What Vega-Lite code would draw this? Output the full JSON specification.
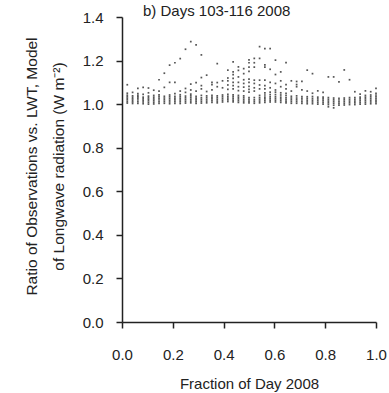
{
"$schema":"https://vega.github.io/schema/vega-lite/v6.json",
"autosize":{"type":"none"},
"padding":{"left":122,"top":17,"right":13,"bottom":71},
"width":254,"height":305,
"background":"white",
"title":{"text":"b) Days 103-116 2008","anchor":"start","frame":"group","orient":"top","dx":21,"offset":-21,"baseline":"alphabetic","fontSize":15,"fontWeight":"normal","font":"Liberation Sans","color":"#222"},
"config":{"view":{"stroke":null},"axis":{"grid":false,"domainColor":"#222","domainWidth":1.5,"tickColor":"#222","tickWidth":1.5,"tickSize":6,"labelFont":"Liberation Sans","labelFontSize":15,"labelColor":"#222","titleFont":"Liberation Sans","titleFontSize":15,"titleFontWeight":"normal","titleColor":"#222"}},
"data":{"values":[
{"frac":0.0208,"ratio":1.005},{"frac":0.0208,"ratio":1.012},{"frac":0.0208,"ratio":1.02},{"frac":0.0208,"ratio":1.027},{"frac":0.0208,"ratio":1.034},{"frac":0.0208,"ratio":1.041},{"frac":0.0208,"ratio":1.05},{"frac":0.0208,"ratio":1.089},
{"frac":0.0417,"ratio":1.003},{"frac":0.0417,"ratio":1.01},{"frac":0.0417,"ratio":1.017},{"frac":0.0417,"ratio":1.024},{"frac":0.0417,"ratio":1.031},{"frac":0.0417,"ratio":1.038},{"frac":0.0417,"ratio":1.054},
{"frac":0.0625,"ratio":1.004},{"frac":0.0625,"ratio":1.011},{"frac":0.0625,"ratio":1.019},{"frac":0.0625,"ratio":1.026},{"frac":0.0625,"ratio":1.033},{"frac":0.0625,"ratio":1.04},{"frac":0.0625,"ratio":1.048},{"frac":0.0625,"ratio":1.072},
{"frac":0.0833,"ratio":1.002},{"frac":0.0833,"ratio":1.01},{"frac":0.0833,"ratio":1.018},{"frac":0.0833,"ratio":1.025},{"frac":0.0833,"ratio":1.032},{"frac":0.0833,"ratio":1.045},{"frac":0.0833,"ratio":1.077},
{"frac":0.1042,"ratio":1.0},{"frac":0.1042,"ratio":1.008},{"frac":0.1042,"ratio":1.016},{"frac":0.1042,"ratio":1.023},{"frac":0.1042,"ratio":1.03},{"frac":0.1042,"ratio":1.037},{"frac":0.1042,"ratio":1.052},{"frac":0.1042,"ratio":1.074},
{"frac":0.125,"ratio":1.001},{"frac":0.125,"ratio":1.009},{"frac":0.125,"ratio":1.017},{"frac":0.125,"ratio":1.024},{"frac":0.125,"ratio":1.032},{"frac":0.125,"ratio":1.04},{"frac":0.125,"ratio":1.064},
{"frac":0.1458,"ratio":1.003},{"frac":0.1458,"ratio":1.011},{"frac":0.1458,"ratio":1.019},{"frac":0.1458,"ratio":1.027},{"frac":0.1458,"ratio":1.035},{"frac":0.1458,"ratio":1.043},{"frac":0.1458,"ratio":1.06},{"frac":0.1458,"ratio":1.112},
{"frac":0.1667,"ratio":1.004},{"frac":0.1667,"ratio":1.012},{"frac":0.1667,"ratio":1.02},{"frac":0.1667,"ratio":1.028},{"frac":0.1667,"ratio":1.036},{"frac":0.1667,"ratio":1.077},{"frac":0.1667,"ratio":1.142},
{"frac":0.1875,"ratio":1.002},{"frac":0.1875,"ratio":1.01},{"frac":0.1875,"ratio":1.018},{"frac":0.1875,"ratio":1.026},{"frac":0.1875,"ratio":1.034},{"frac":0.1875,"ratio":1.042},{"frac":0.1875,"ratio":1.1},{"frac":0.1875,"ratio":1.179},
{"frac":0.2083,"ratio":1.004},{"frac":0.2083,"ratio":1.012},{"frac":0.2083,"ratio":1.02},{"frac":0.2083,"ratio":1.028},{"frac":0.2083,"ratio":1.036},{"frac":0.2083,"ratio":1.048},{"frac":0.2083,"ratio":1.1},{"frac":0.2083,"ratio":1.19},
{"frac":0.2292,"ratio":1.003},{"frac":0.2292,"ratio":1.011},{"frac":0.2292,"ratio":1.019},{"frac":0.2292,"ratio":1.027},{"frac":0.2292,"ratio":1.035},{"frac":0.2292,"ratio":1.043},{"frac":0.2292,"ratio":1.06},{"frac":0.2292,"ratio":1.209},
{"frac":0.25,"ratio":1.005},{"frac":0.25,"ratio":1.013},{"frac":0.25,"ratio":1.021},{"frac":0.25,"ratio":1.029},{"frac":0.25,"ratio":1.037},{"frac":0.25,"ratio":1.054},{"frac":0.25,"ratio":1.072},{"frac":0.25,"ratio":1.252},
{"frac":0.2708,"ratio":1.006},{"frac":0.2708,"ratio":1.014},{"frac":0.2708,"ratio":1.022},{"frac":0.2708,"ratio":1.03},{"frac":0.2708,"ratio":1.038},{"frac":0.2708,"ratio":1.046},{"frac":0.2708,"ratio":1.065},{"frac":0.2708,"ratio":1.092},{"frac":0.2708,"ratio":1.287},
{"frac":0.2917,"ratio":1.004},{"frac":0.2917,"ratio":1.012},{"frac":0.2917,"ratio":1.02},{"frac":0.2917,"ratio":1.028},{"frac":0.2917,"ratio":1.036},{"frac":0.2917,"ratio":1.06},{"frac":0.2917,"ratio":1.099},{"frac":0.2917,"ratio":1.272},
{"frac":0.3125,"ratio":1.005},{"frac":0.3125,"ratio":1.013},{"frac":0.3125,"ratio":1.021},{"frac":0.3125,"ratio":1.029},{"frac":0.3125,"ratio":1.04},{"frac":0.3125,"ratio":1.07},{"frac":0.3125,"ratio":1.085},{"frac":0.3125,"ratio":1.122},{"frac":0.3125,"ratio":1.226},
{"frac":0.3333,"ratio":1.006},{"frac":0.3333,"ratio":1.014},{"frac":0.3333,"ratio":1.022},{"frac":0.3333,"ratio":1.03},{"frac":0.3333,"ratio":1.038},{"frac":0.3333,"ratio":1.058},{"frac":0.3333,"ratio":1.133},
{"frac":0.3542,"ratio":1.008},{"frac":0.3542,"ratio":1.016},{"frac":0.3542,"ratio":1.024},{"frac":0.3542,"ratio":1.032},{"frac":0.3542,"ratio":1.04},{"frac":0.3542,"ratio":1.065},{"frac":0.3542,"ratio":1.09},{"frac":0.3542,"ratio":1.1},
{"frac":0.375,"ratio":1.006},{"frac":0.375,"ratio":1.014},{"frac":0.375,"ratio":1.022},{"frac":0.375,"ratio":1.03},{"frac":0.375,"ratio":1.038},{"frac":0.375,"ratio":1.08},{"frac":0.375,"ratio":1.099},{"frac":0.375,"ratio":1.186},
{"frac":0.3958,"ratio":1.01},{"frac":0.3958,"ratio":1.018},{"frac":0.3958,"ratio":1.026},{"frac":0.3958,"ratio":1.034},{"frac":0.3958,"ratio":1.042},{"frac":0.3958,"ratio":1.075},{"frac":0.3958,"ratio":1.107},
{"frac":0.4167,"ratio":1.012},{"frac":0.4167,"ratio":1.02},{"frac":0.4167,"ratio":1.028},{"frac":0.4167,"ratio":1.036},{"frac":0.4167,"ratio":1.045},{"frac":0.4167,"ratio":1.068},{"frac":0.4167,"ratio":1.088},{"frac":0.4167,"ratio":1.107},{"frac":0.4167,"ratio":1.12},{"frac":0.4167,"ratio":1.156},
{"frac":0.4375,"ratio":1.01},{"frac":0.4375,"ratio":1.018},{"frac":0.4375,"ratio":1.026},{"frac":0.4375,"ratio":1.034},{"frac":0.4375,"ratio":1.043},{"frac":0.4375,"ratio":1.07},{"frac":0.4375,"ratio":1.085},{"frac":0.4375,"ratio":1.1},{"frac":0.4375,"ratio":1.118},{"frac":0.4375,"ratio":1.135},{"frac":0.4375,"ratio":1.148},{"frac":0.4375,"ratio":1.194},
{"frac":0.4583,"ratio":1.008},{"frac":0.4583,"ratio":1.016},{"frac":0.4583,"ratio":1.024},{"frac":0.4583,"ratio":1.032},{"frac":0.4583,"ratio":1.04},{"frac":0.4583,"ratio":1.062},{"frac":0.4583,"ratio":1.08},{"frac":0.4583,"ratio":1.1},{"frac":0.4583,"ratio":1.125},{"frac":0.4583,"ratio":1.155},{"frac":0.4583,"ratio":1.171},
{"frac":0.4792,"ratio":1.006},{"frac":0.4792,"ratio":1.014},{"frac":0.4792,"ratio":1.022},{"frac":0.4792,"ratio":1.03},{"frac":0.4792,"ratio":1.038},{"frac":0.4792,"ratio":1.06},{"frac":0.4792,"ratio":1.078},{"frac":0.4792,"ratio":1.095},{"frac":0.4792,"ratio":1.112},{"frac":0.4792,"ratio":1.14},{"frac":0.4792,"ratio":1.163},
{"frac":0.5,"ratio":1.006},{"frac":0.5,"ratio":1.014},{"frac":0.5,"ratio":1.022},{"frac":0.5,"ratio":1.03},{"frac":0.5,"ratio":1.055},{"frac":0.5,"ratio":1.068},{"frac":0.5,"ratio":1.082},{"frac":0.5,"ratio":1.1},{"frac":0.5,"ratio":1.115},{"frac":0.5,"ratio":1.15},{"frac":0.5,"ratio":1.17},{"frac":0.5,"ratio":1.19},{"frac":0.5,"ratio":1.203},
{"frac":0.5208,"ratio":1.004},{"frac":0.5208,"ratio":1.012},{"frac":0.5208,"ratio":1.02},{"frac":0.5208,"ratio":1.03},{"frac":0.5208,"ratio":1.06},{"frac":0.5208,"ratio":1.075},{"frac":0.5208,"ratio":1.095},{"frac":0.5208,"ratio":1.11},{"frac":0.5208,"ratio":1.17},{"frac":0.5208,"ratio":1.19},{"frac":0.5208,"ratio":1.21},
{"frac":0.5417,"ratio":1.006},{"frac":0.5417,"ratio":1.014},{"frac":0.5417,"ratio":1.022},{"frac":0.5417,"ratio":1.03},{"frac":0.5417,"ratio":1.04},{"frac":0.5417,"ratio":1.07},{"frac":0.5417,"ratio":1.088},{"frac":0.5417,"ratio":1.11},{"frac":0.5417,"ratio":1.21},{"frac":0.5417,"ratio":1.264},
{"frac":0.5625,"ratio":1.008},{"frac":0.5625,"ratio":1.016},{"frac":0.5625,"ratio":1.024},{"frac":0.5625,"ratio":1.032},{"frac":0.5625,"ratio":1.042},{"frac":0.5625,"ratio":1.052},{"frac":0.5625,"ratio":1.07},{"frac":0.5625,"ratio":1.085},{"frac":0.5625,"ratio":1.11},{"frac":0.5625,"ratio":1.17},{"frac":0.5625,"ratio":1.18},{"frac":0.5625,"ratio":1.255},
{"frac":0.5833,"ratio":1.01},{"frac":0.5833,"ratio":1.018},{"frac":0.5833,"ratio":1.026},{"frac":0.5833,"ratio":1.034},{"frac":0.5833,"ratio":1.044},{"frac":0.5833,"ratio":1.055},{"frac":0.5833,"ratio":1.075},{"frac":0.5833,"ratio":1.1},{"frac":0.5833,"ratio":1.16},{"frac":0.5833,"ratio":1.255},
{"frac":0.6042,"ratio":1.01},{"frac":0.6042,"ratio":1.018},{"frac":0.6042,"ratio":1.026},{"frac":0.6042,"ratio":1.034},{"frac":0.6042,"ratio":1.044},{"frac":0.6042,"ratio":1.055},{"frac":0.6042,"ratio":1.065},{"frac":0.6042,"ratio":1.095},{"frac":0.6042,"ratio":1.136},{"frac":0.6042,"ratio":1.202},
{"frac":0.625,"ratio":1.008},{"frac":0.625,"ratio":1.016},{"frac":0.625,"ratio":1.024},{"frac":0.625,"ratio":1.032},{"frac":0.625,"ratio":1.042},{"frac":0.625,"ratio":1.052},{"frac":0.625,"ratio":1.08},{"frac":0.625,"ratio":1.107},{"frac":0.625,"ratio":1.148},
{"frac":0.6458,"ratio":1.006},{"frac":0.6458,"ratio":1.014},{"frac":0.6458,"ratio":1.022},{"frac":0.6458,"ratio":1.03},{"frac":0.6458,"ratio":1.04},{"frac":0.6458,"ratio":1.05},{"frac":0.6458,"ratio":1.07},{"frac":0.6458,"ratio":1.09},{"frac":0.6458,"ratio":1.191},
{"frac":0.6667,"ratio":1.004},{"frac":0.6667,"ratio":1.012},{"frac":0.6667,"ratio":1.02},{"frac":0.6667,"ratio":1.028},{"frac":0.6667,"ratio":1.036},{"frac":0.6667,"ratio":1.06},{"frac":0.6667,"ratio":1.107},
{"frac":0.6875,"ratio":1.004},{"frac":0.6875,"ratio":1.012},{"frac":0.6875,"ratio":1.02},{"frac":0.6875,"ratio":1.028},{"frac":0.6875,"ratio":1.038},{"frac":0.6875,"ratio":1.08},{"frac":0.6875,"ratio":1.09},{"frac":0.6875,"ratio":1.104},
{"frac":0.7083,"ratio":1.003},{"frac":0.7083,"ratio":1.011},{"frac":0.7083,"ratio":1.019},{"frac":0.7083,"ratio":1.027},{"frac":0.7083,"ratio":1.035},{"frac":0.7083,"ratio":1.065},{"frac":0.7083,"ratio":1.104},
{"frac":0.7292,"ratio":1.002},{"frac":0.7292,"ratio":1.01},{"frac":0.7292,"ratio":1.018},{"frac":0.7292,"ratio":1.026},{"frac":0.7292,"ratio":1.034},{"frac":0.7292,"ratio":1.06},{"frac":0.7292,"ratio":1.156},
{"frac":0.75,"ratio":1.002},{"frac":0.75,"ratio":1.01},{"frac":0.75,"ratio":1.018},{"frac":0.75,"ratio":1.026},{"frac":0.75,"ratio":1.035},{"frac":0.75,"ratio":1.05},{"frac":0.75,"ratio":1.14},
{"frac":0.7708,"ratio":1.0},{"frac":0.7708,"ratio":1.008},{"frac":0.7708,"ratio":1.016},{"frac":0.7708,"ratio":1.024},{"frac":0.7708,"ratio":1.032},{"frac":0.7708,"ratio":1.061},
{"frac":0.7917,"ratio":1.0},{"frac":0.7917,"ratio":1.008},{"frac":0.7917,"ratio":1.016},{"frac":0.7917,"ratio":1.024},{"frac":0.7917,"ratio":1.032},{"frac":0.7917,"ratio":1.054},
{"frac":0.8125,"ratio":0.988},{"frac":0.8125,"ratio":0.998},{"frac":0.8125,"ratio":1.006},{"frac":0.8125,"ratio":1.014},{"frac":0.8125,"ratio":1.022},{"frac":0.8125,"ratio":1.03},{"frac":0.8125,"ratio":1.125},
{"frac":0.8333,"ratio":0.983},{"frac":0.8333,"ratio":0.995},{"frac":0.8333,"ratio":1.004},{"frac":0.8333,"ratio":1.012},{"frac":0.8333,"ratio":1.02},{"frac":0.8333,"ratio":1.028},{"frac":0.8333,"ratio":1.125},
{"frac":0.8542,"ratio":0.995},{"frac":0.8542,"ratio":1.003},{"frac":0.8542,"ratio":1.011},{"frac":0.8542,"ratio":1.019},{"frac":0.8542,"ratio":1.027},{"frac":0.8542,"ratio":1.102},
{"frac":0.875,"ratio":0.996},{"frac":0.875,"ratio":1.004},{"frac":0.875,"ratio":1.012},{"frac":0.875,"ratio":1.02},{"frac":0.875,"ratio":1.028},{"frac":0.875,"ratio":1.157},
{"frac":0.8958,"ratio":0.998},{"frac":0.8958,"ratio":1.006},{"frac":0.8958,"ratio":1.014},{"frac":0.8958,"ratio":1.022},{"frac":0.8958,"ratio":1.03},{"frac":0.8958,"ratio":1.112},
{"frac":0.9167,"ratio":0.998},{"frac":0.9167,"ratio":1.006},{"frac":0.9167,"ratio":1.014},{"frac":0.9167,"ratio":1.022},{"frac":0.9167,"ratio":1.03},{"frac":0.9167,"ratio":1.057},
{"frac":0.9375,"ratio":1.0},{"frac":0.9375,"ratio":1.008},{"frac":0.9375,"ratio":1.016},{"frac":0.9375,"ratio":1.024},{"frac":0.9375,"ratio":1.032},{"frac":0.9375,"ratio":1.046},
{"frac":0.9583,"ratio":1.0},{"frac":0.9583,"ratio":1.008},{"frac":0.9583,"ratio":1.016},{"frac":0.9583,"ratio":1.024},{"frac":0.9583,"ratio":1.032},{"frac":0.9583,"ratio":1.04},{"frac":0.9583,"ratio":1.061},
{"frac":0.9792,"ratio":1.002},{"frac":0.9792,"ratio":1.01},{"frac":0.9792,"ratio":1.018},{"frac":0.9792,"ratio":1.026},{"frac":0.9792,"ratio":1.034},{"frac":0.9792,"ratio":1.042},{"frac":0.9792,"ratio":1.057},
{"frac":1.0,"ratio":1.002},{"frac":1.0,"ratio":1.01},{"frac":1.0,"ratio":1.018},{"frac":1.0,"ratio":1.026},{"frac":1.0,"ratio":1.034},{"frac":1.0,"ratio":1.042},{"frac":1.0,"ratio":1.05},{"frac":1.0,"ratio":1.072}
]},
"mark":{"type":"point","shape":"square","filled":true,"size":3,"color":"#444","opacity":0.9},
"encoding":{
"x":{"field":"frac","type":"quantitative","scale":{"domain":[0,1],"nice":false,"zero":false},
"axis":{"title":"Fraction of Day 2008","values":[0,0.2,0.4,0.6,0.8,1.0],"format":".1f","labelPadding":19,"titlePadding":14,"labelFlush":false}},
"y":{"field":"ratio","type":"quantitative","scale":{"domain":[0,1.4],"nice":false},
"axis":{"title":["Ratio of Observations vs. LWT, Model","of Longwave radiation (W m⁻²)"],"values":[0,0.2,0.4,0.6,0.8,1.0,1.2,1.4],"format":".1f","labelPadding":13,"titlePadding":16,"titleLineHeight":27,"titleFontSize":15.5,"titleY":149,"labelFlush":false}}
}
}
